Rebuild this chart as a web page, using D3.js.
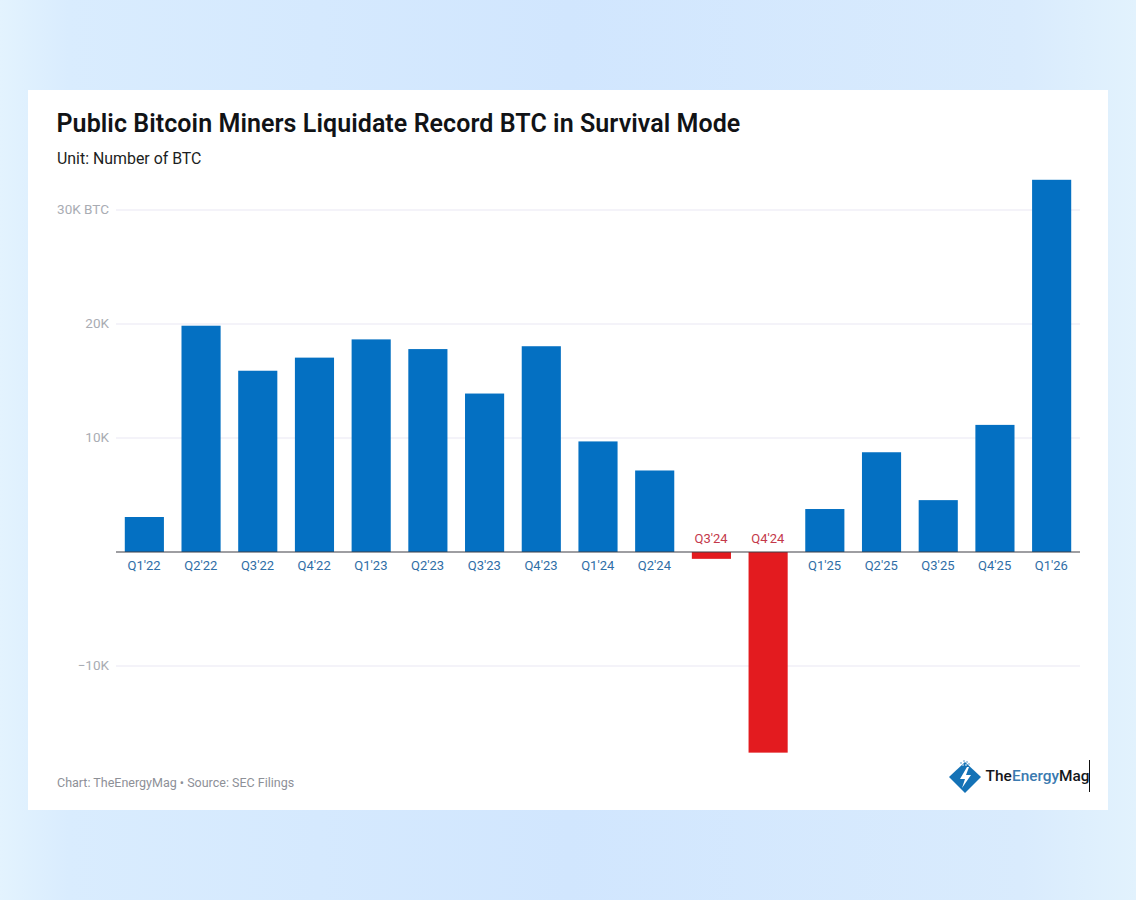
<!DOCTYPE html>
<html><head><meta charset="utf-8">
<script src="https://cdn.jsdelivr.net/npm/d3@7/dist/d3.min.js"></script>
<style>html,body{margin:0;padding:0;background:#dcecfb;overflow:hidden}svg{display:block}text{font-family:Roboto,sans-serif}</style>
</head><body><svg id="c" width="1136" height="900"></svg>
<script>
const categories=["Q1'22","Q2'22","Q3'22","Q4'22","Q1'23","Q2'23","Q3'23","Q4'23","Q1'24","Q2'24","Q3'24","Q4'24","Q1'25","Q2'25","Q3'25","Q4'25","Q1'26"];
const btcValues=[3070,19850,15900,17050,18650,17800,13900,18050,9700,7150,-600,-17600,3770,8750,4550,11150,32650];
const tickValues=[-10000,0,10000,20000,30000];
const tickLabels=["−10K","","10K","20K","30K BTC"];
const titleText="Public Bitcoin Miners Liquidate Record BTC in Survival Mode";
const subtitleText="Unit: Number of BTC";
const sourceText="Chart: TheEnergyMag • Source: SEC Filings";

const svg=d3.select("#c");
const defs=svg.append("defs");
const g=defs.append("linearGradient").attr("id","bg").attr("x1",0).attr("y1",0).attr("x2",1).attr("y2",0);
[[0,"#e3f3fe"],[0.06,"#d9ecfe"],[0.5,"#d1e6fe"],[0.9,"#d9ebfd"],[1,"#e2f2fd"]].forEach(d=>g.append("stop").attr("offset",d[0]).attr("stop-color",d[1]));
svg.append("rect").attr("width",1136).attr("height",900).attr("fill","url(#bg)");
svg.append("rect").attr("x",28).attr("y",90).attr("width",1080).attr("height",720).attr("fill","#fff");

const x=d3.scaleBand().domain(categories).range([116,1080]).paddingInner(0.31).paddingOuter(0.155);
const y=d3.scaleLinear().domain([-10000,30000]).range([666,210]);

svg.append("text").attr("x",56.5).attr("y",132).attr("font-size",25).attr("font-weight",600).attr("letter-spacing",0.07).attr("fill","#111316").text(titleText);
svg.append("text").attr("x",57).attr("y",163.5).attr("font-size",15.9).attr("fill","#1c1e22").text(subtitleText);

const yAxis=d3.axisLeft(y).tickValues(tickValues).tickFormat((d,i)=>tickLabels[i]).tickSize(0).tickPadding(7);
const ya=svg.append("g").attr("transform","translate(116,-0.5)").call(yAxis);
ya.select(".domain").remove();
ya.selectAll("text").attr("font-size",13.5).attr("fill","#a9acb3").style("font-family","Roboto,sans-serif");
svg.append("g").selectAll("line").data(tickValues.filter(d=>d!==0)).join("line")
 .attr("x1",116).attr("x2",1080).attr("y1",d=>y(d)).attr("y2",d=>y(d)).attr("stroke","#e9e8f3").attr("stroke-width",1.2);

svg.append("g").selectAll("rect").data(categories).join("rect")
 .attr("x",d=>x(d)).attr("width",x.bandwidth())
 .attr("y",(d,i)=>y(Math.max(0,btcValues[i])))
 .attr("height",(d,i)=>Math.abs(y(btcValues[i])-y(0)))
 .attr("fill",(d,i)=>btcValues[i]<0?"#e31b1f":"#0470c2");

svg.append("line").attr("x1",116).attr("x2",1080).attr("y1",y(0)).attr("y2",y(0)).attr("stroke","#3f3f46").attr("stroke-width",1.2);

svg.append("g").selectAll("text").data(categories).join("text")
 .attr("x",d=>x(d)+x.bandwidth()/2-0.3).attr("text-anchor","middle").attr("font-size",13)
 .attr("y",(d,i)=>btcValues[i]<0?y(0)-9.5:y(0)+18)
 .attr("fill",(d,i)=>btcValues[i]<0?"#c4384a":"#2f6ea6").text(d=>d);

svg.append("text").attr("x",57).attr("y",787).attr("font-size",12.5).attr("fill","#8d9097").text(sourceText);

// logo
const logo=svg.append("g");
logo.append("path").attr("d","M965 762 L981 777 L965 793 L949 777 Z").attr("fill","#1472b6");
logo.append("path").attr("d","M967 767 L960 779 L965 779 L962 788 L971 775 L966 775 L969 767 Z").attr("fill","#fff");
logo.selectAll("circle").data([[961,763],[964,761],[967,762],[963,765],[966,765],[969,764]]).join("circle")
 .attr("cx",d=>d[0]).attr("cy",d=>d[1]).attr("r",1.1).attr("fill","#9cc4e2");
const logoParts=[["The",985.5,"#14171c"],["Energy",1012,"#3b7ab0"],["Mag",1059,"#14171c"]];
logo.selectAll("text").data(logoParts).join("text")
 .attr("x",d=>d[1]).attr("y",781).attr("font-size",15.4).attr("font-weight",500).attr("fill",d=>d[2]).text(d=>d[0]);
logo.append("line").attr("x1",1089.5).attr("x2",1089.5).attr("y1",760).attr("y2",792).attr("stroke","#111").attr("stroke-width",1);
</script></body></html>
